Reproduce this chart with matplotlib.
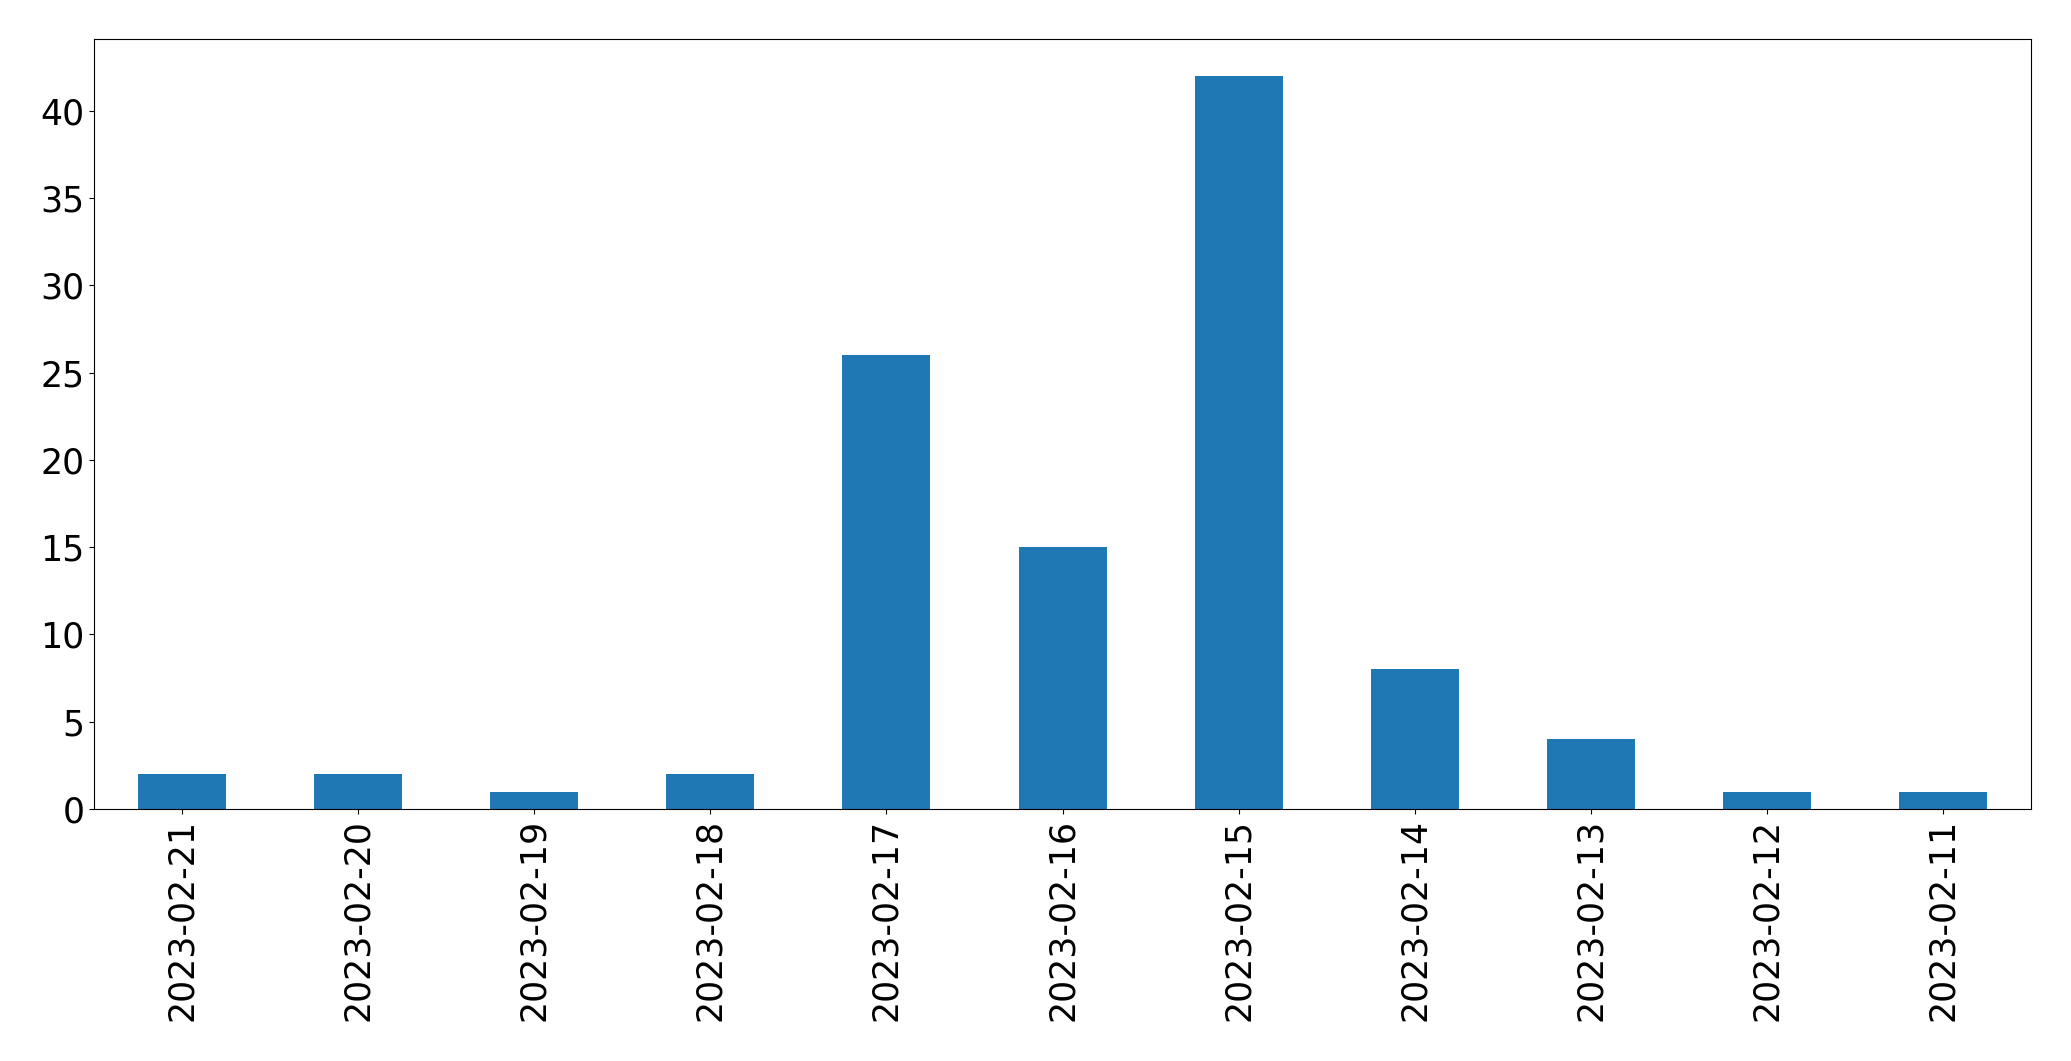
import pandas as pd
import matplotlib
matplotlib.use('Agg')
import matplotlib.pyplot as plt

# datas (ordem decrescente) e contagens
datas = ['2023-02-21', '2023-02-20', '2023-02-19', '2023-02-18', '2023-02-17', '2023-02-16',
         '2023-02-15', '2023-02-14', '2023-02-13', '2023-02-12', '2023-02-11']
contagens = [2, 2, 1, 2, 26, 15, 42, 8, 4, 1, 1]

s = pd.Series(contagens, index=datas)

fig, ax = plt.subplots(figsize=(20.71, 10.61), dpi=100)
s.plot.bar(ax=ax, color='#1f77b4', fontsize=25)
plt.subplots_adjust(left=0.0454, right=0.9807, top=0.9632, bottom=0.2375)
plt.savefig('out.png')
